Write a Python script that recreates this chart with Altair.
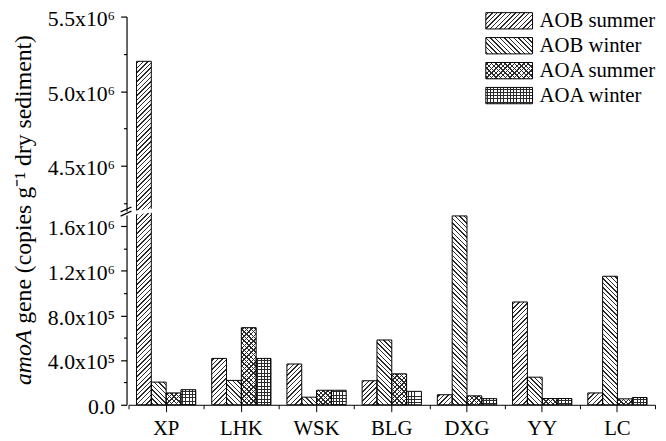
import math
import altair as alt

# ---------------- data ----------------
SITES = ["XP", "LHK", "WSK", "BLG", "DXG", "YY", "LC"]
SERIES = ["AOB summer", "AOB winter", "AOA summer", "AOA winter"]
AOB_SUMMER = [5.2e6, 4.15e5, 3.65e5, 2.15e5, 9.0e4, 9.2e5, 1.06e5]
AOB_WINTER = [2.03e5, 2.18e5, 6.8e4, 5.8e5, 1.69e6, 2.47e5, 1.15e6]
AOA_SUMMER = [1.06e5, 6.9e5, 1.3e5, 2.77e5, 8.0e4, 5.6e4, 5.3e4]
AOA_WINTER = [1.35e5, 4.15e5, 1.3e5, 1.2e5, 5.5e4, 5.6e4, 6.5e4]
VALUES = {"AOB summer": AOB_SUMMER, "AOB winter": AOB_WINTER,
          "AOA summer": AOA_SUMMER, "AOA winter": AOA_WINTER}

Y_BREAK = [1.7e6, 4.2e6]
Y_MAX = 5.5e6
Y_MAJOR = [0.0, 4e5, 8e5, 1.2e6, 1.6e6, 4.5e6, 5.0e6, 5.5e6]
Y_MAJOR_LABELS = ["0.0", "4.0x10⁵", "8.0x10⁵", "1.2x10⁶", "1.6x10⁶",
                  "4.5x10⁶", "5.0x10⁶", "5.5x10⁶"]
Y_MINOR = [2e5, 6e5, 1.0e6, 1.4e6, 4.25e6, 4.75e6, 5.25e6]

TITLE_ITALIC = "amoA"
TITLE_REST = "gene (copies g⁻¹ dry sediment)"

# ---------------- layout / style ----------------
FONT = "'Liberation Serif', 'Times New Roman', Times, serif"
W, H = 533, 393
Y_DOMAIN = [0.0, Y_BREAK[0], Y_BREAK[1], Y_MAX]
Y_RANGE = [H, 200.7, 196.3, 0]
BAR_W = 15.0
STEP = W / len(SITES)
OFF_PAD = (STEP / BAR_W - len(SERIES)) / 2
LINE = "#2a2a2a"
PERIOD = 3.3
LW = 1.0


def ypix(v):
    for i in range(3):
        d0, d1 = Y_DOMAIN[i], Y_DOMAIN[i + 1]
        if v <= d1 or i == 2:
            r0, r1 = Y_RANGE[i], Y_RANGE[i + 1]
            return r0 + (v - d0) / (d1 - d0) * (r1 - r0)


def yinv(px):
    for i in range(3):
        r0, r1 = Y_RANGE[i], Y_RANGE[i + 1]
        if px >= r1 or i == 2:
            d0, d1 = Y_DOMAIN[i], Y_DOMAIN[i + 1]
            return d0 + (px - r0) / (r1 - r0) * (d1 - d0)


def make_stops(D, bg):
    out = [{"offset": 0, "color": bg}]
    t = (PERIOD - LW) / 2
    while t < D:
        a = round(t / D, 5)
        b = round(min((t + LW) / D, 1.0), 5)
        out += [{"offset": a, "color": bg}, {"offset": a, "color": LINE},
                {"offset": b, "color": LINE}, {"offset": b, "color": bg}]
        t += PERIOD
    out.append({"offset": 1, "color": bg})
    return out


def grad(kind, w, h, bg):
    if kind is None:
        return "transparent"
    if kind in ("/", "\\"):
        lam = (w + h) / (w * w + h * h)
        D = (w + h) / math.sqrt(2)
        if kind == "/":
            x1, y1, x2, y2 = 0, 0, lam * w, lam * h
        else:
            x1, y1, x2, y2 = 0, 1, lam * w, 1 - lam * h
    elif kind == "-":
        x1, y1, x2, y2, D = 0, 0, 0, 1, h
    else:
        x1, y1, x2, y2, D = 0, 0, 1, 0, w
    return {"gradient": "linear", "x1": x1, "y1": y1, "x2": x2, "y2": y2,
            "stops": make_stops(max(D, 1.0), bg)}


PAT = {"AOB summer": ("/", None), "AOB winter": ("\\", None),
       "AOA summer": ("/", "\\"), "AOA winter": ("-", "|")}

rows = []
for s in SERIES:
    for site, v in zip(SITES, VALUES[s]):
        h = ypix(0) - ypix(v)
        k1, k2 = PAT[s]
        rows.append({"site": site, "series": s, "value": v,
                     "g1": grad(k1, BAR_W, h, "white"),
                     "g2": grad(k2, BAR_W, h, "rgba(255,255,255,0)")})
bar_data = alt.Data(values=rows)

# ---------------- encodings ----------------
x_scale = alt.Scale(paddingInner=0, paddingOuter=0)
x_enc = alt.X("site:N", sort=SITES, scale=x_scale, title=None,
              axis=alt.Axis(orient="bottom", labelAngle=0, labelFont=FONT,
                            labelFontSize=21, labelColor="black",
                            labelPadding=6, tickSize=7, tickColor="black",
                            domainColor="black", title=None, grid=False))
xoff = alt.XOffset("series:N", sort=SERIES,
                   scale=alt.Scale(paddingInner=0, paddingOuter=OFF_PAD))

y_scale = alt.Scale(domain=Y_DOMAIN, range=Y_RANGE, nice=False)
label_expr = " : ".join(f"datum.value == {v} ? '{lab}'"
                        for v, lab in zip(Y_MAJOR, Y_MAJOR_LABELS)) + " : ''"
y_axis = alt.Axis(orient="left", values=Y_MAJOR, labelExpr=label_expr,
                  tickSize=6, offset=2, labelFont=FONT, labelFontSize=22,
                  labelColor="black", labelPadding=6, labelOffset=2,
                  domainColor="black", tickColor="black", tickWidth=1.2,
                  domainWidth=1.2, title=None, grid=False,
                  labelOverlap=False, labelFlush=False)
y_minor_axis = alt.Axis(orient="left", values=Y_MINOR, labels=False,
                        domain=False, tickSize=3, offset=2, tickColor="black",
                        tickWidth=1.2, title=None, grid=False)

bars1 = alt.Chart(bar_data).mark_bar(strokeWidth=0, aria=False).encode(
    x=x_enc, xOffset=xoff,
    y=alt.Y("value:Q", stack=None, scale=y_scale, axis=y_axis, title=None),
    fill=alt.Fill("g1:N", scale=None))
bars2 = alt.Chart(bar_data).mark_bar(stroke="black", strokeWidth=1, aria=False).encode(
    x=x_enc, xOffset=xoff,
    y=alt.Y("value:Q", stack=None, scale=y_scale, axis=None, title=None),
    fill=alt.Fill("g2:N", scale=None))

minor_y = alt.Chart(alt.Data(values=[{"value": v} for v in Y_MINOR])).mark_point(
    opacity=0).encode(
    x=alt.value(0),
    y=alt.Y("value:Q", scale=y_scale, axis=y_minor_axis, title=None))

# axis break decoration
white_band = alt.Chart(alt.Data(values=[{"value": yinv(200.0), "yb": yinv(196.3)}])).mark_rule(
    color="white", strokeWidth=4).encode(
    x=alt.value(-7), x2=alt.value(25),
    y=alt.Y("value:Q", scale=y_scale, axis=None), y2="yb:Q")
break_lines = alt.Chart(alt.Data(values=[
    {"value": yinv(197.7), "yb": yinv(192.7)},
    {"value": yinv(202.0), "yb": yinv(197.0)}])).mark_rule(
    color="black", strokeWidth=1.2).encode(
    x=alt.value(-8), x2=alt.value(3),
    y=alt.Y("value:Q", scale=y_scale, axis=None), y2="yb:Q")

inner = alt.layer(bars1, bars2, minor_y, white_band, break_lines).resolve_axis(
    y="independent")

# minor x ticks at group boundaries
minor_x = alt.Chart(alt.Data(values=[{"site": s} for s in SITES])).mark_point(opacity=0).encode(
    x=alt.X("site:N", sort=SITES, scale=x_scale, title=None,
            axis=alt.Axis(orient="bottom", labels=False, domain=False,
                          tickBand="extent", tickSize=4, tickColor="black",
                          title=None, grid=False)))

# legend
SW_W, SW_H = 47.3, 16.5
leg_rows = []
for i, s in enumerate(SERIES):
    k1, k2 = PAT[s]
    leg_rows.append({"series": s, "li": i, "y0": i - 0.327, "y1": i + 0.327,
                     "g1": grad(k1, SW_W, SW_H, "white"),
                     "g2": grad(k2, SW_W, SW_H, "rgba(255,255,255,0)")})
leg_data = alt.Data(values=leg_rows)
leg_scale = alt.Scale(domain=[0, 3], range=[4.3, 80])
leg1 = alt.Chart(leg_data).mark_rect(strokeWidth=0, aria=False).encode(
    x=alt.value(361.7), x2=alt.value(409),
    y=alt.Y("y0:Q", scale=leg_scale, axis=None), y2="y1:Q",
    fill=alt.Fill("g1:N", scale=None))
leg2 = alt.Chart(leg_data).mark_rect(stroke="black", strokeWidth=1, aria=False).encode(
    x=alt.value(361.7), x2=alt.value(409),
    y=alt.Y("y0:Q", scale=leg_scale, axis=None), y2="y1:Q",
    fill=alt.Fill("g2:N", scale=None))
leg_text = alt.Chart(leg_data).mark_text(
    align="left", baseline="middle", font=FONT, fontSize=21, color="black").encode(
    x=alt.value(416), y=alt.Y("li:Q", scale=leg_scale, axis=None), text="series:N")
legend = alt.layer(leg1, leg2, leg_text)

# y title (italic gene name + regular rest)
t1 = alt.Chart(alt.Data(values=[{"t": TITLE_ITALIC}])).mark_text(
    angle=270, align="left", baseline="alphabetic", font=FONT, fontSize=24,
    fontStyle="italic", color="black").encode(
    x=alt.value(-99), y=alt.value(373), text="t:N")
t2 = alt.Chart(alt.Data(values=[{"t": TITLE_REST}])).mark_text(
    angle=270, align="left", baseline="alphabetic", font=FONT, fontSize=24,
    color="black").encode(
    x=alt.value(-99), y=alt.value(311), text="t:N")
titles = alt.layer(t1, t2)

chart = alt.layer(inner, minor_x, legend, titles).resolve_scale(
    y="independent").resolve_axis(x="independent").properties(
    width=W, height=H,
    autosize=alt.AutoSizeParams(type="none"),
    padding={"left": 122, "top": 6, "right": 3, "bottom": 34},
    background="white",
).configure_view(stroke=None)

chart.save("out.html", embed_options={"renderer": "svg", "actions": False})
